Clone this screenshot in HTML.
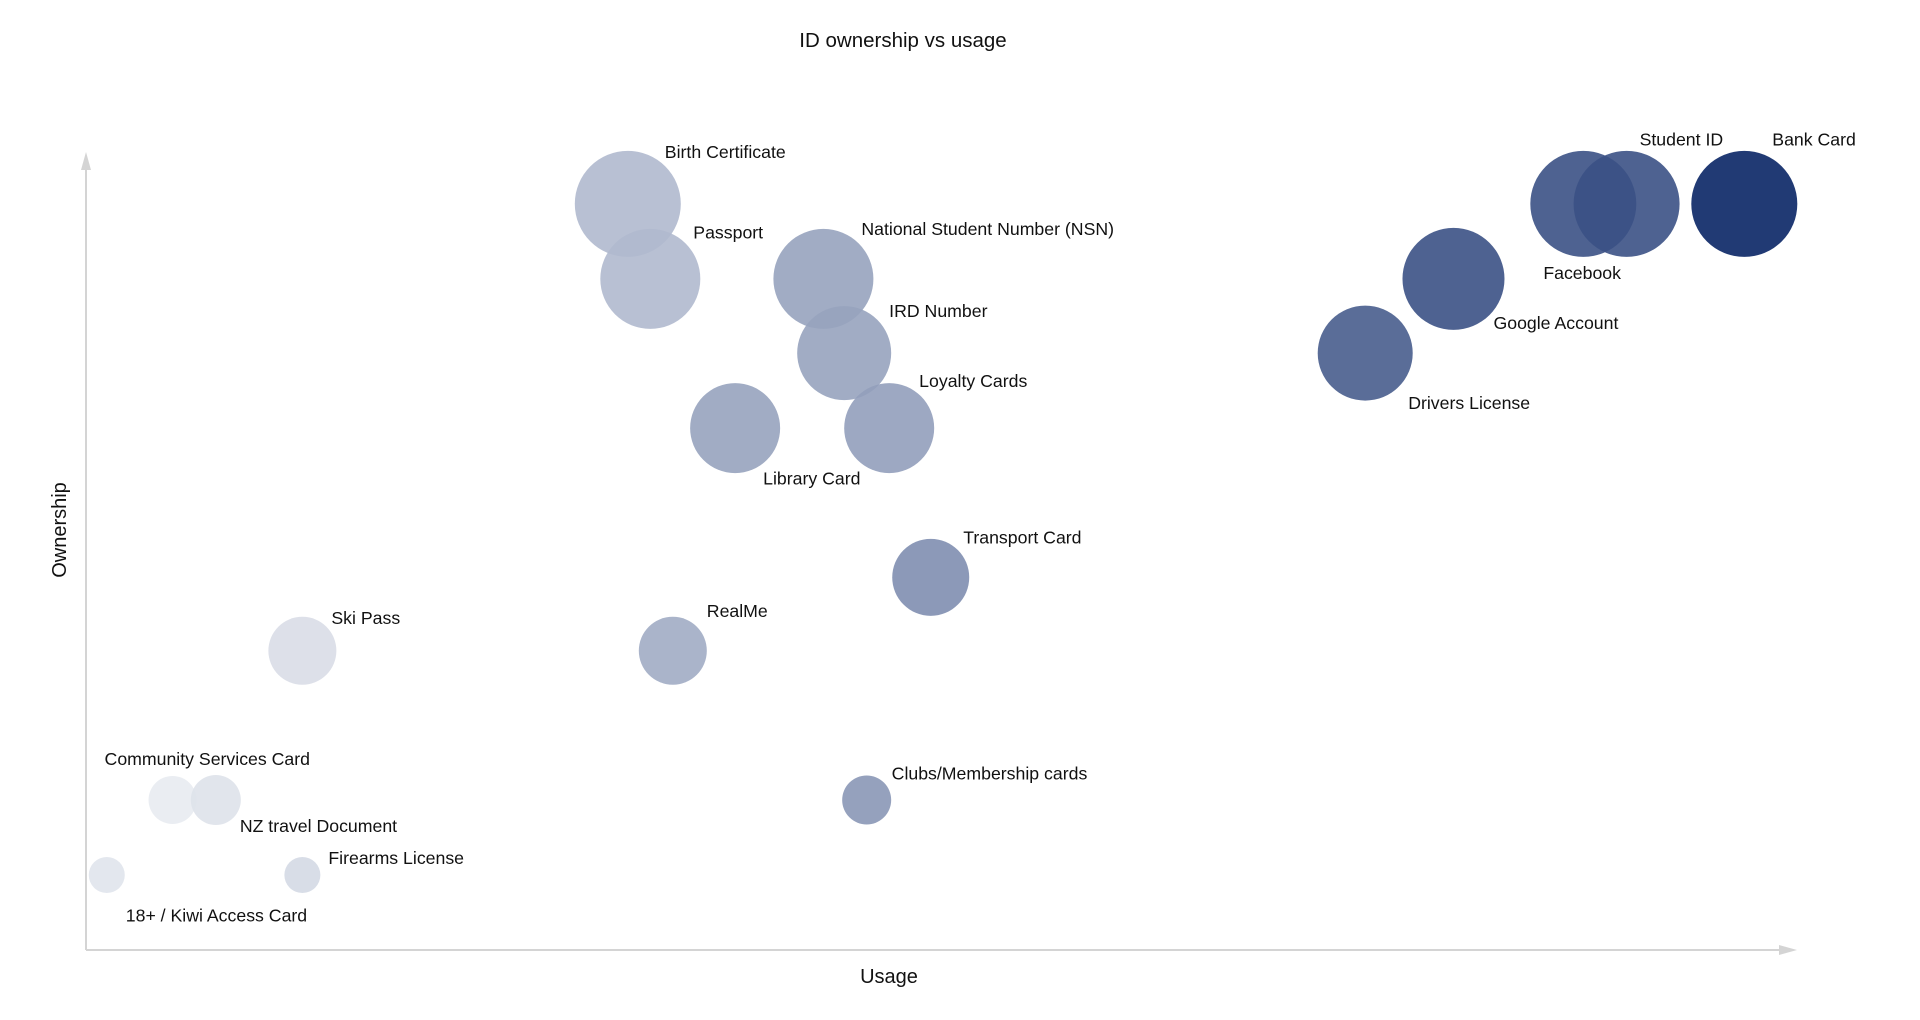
<!DOCTYPE html>
<html><head><meta charset="utf-8"><style>
html,body{margin:0;padding:0;background:#fff;width:1920px;height:1020px;overflow:hidden}
svg{display:block;font-family:"Liberation Sans",Arial,sans-serif}
</style></head><body>
<svg id="chart" width="1920" height="1020" viewBox="0 0 1920 1020">
<text x="903" y="47" text-anchor="middle" font-size="20.5" fill="#111">ID ownership vs usage</text>
<line x1="86" y1="950" x2="86" y2="165" stroke="#d4d4d4" stroke-width="2"/>
<polygon points="86,152 81,170 91,170" fill="#d4d4d4"/>
<line x1="86" y1="950" x2="1782" y2="950" stroke="#d4d4d4" stroke-width="2"/>
<polygon points="1797,950 1779,945 1779,955" fill="#d4d4d4"/>
<text x="889" y="983" text-anchor="middle" font-size="20" fill="#111">Usage</text>
<text transform="translate(66,530) rotate(-90)" text-anchor="middle" font-size="20" fill="#111">Ownership</text>
<g id="marks"></g>
</svg>
<script>
const names = ["Ski Pass","Community Services Card","NZ travel Document","18+ / Kiwi Access Card","Firearms License","Birth Certificate","Passport","RealMe","National Student Number (NSN)","IRD Number","Library Card","Loyalty Cards","Transport Card","Clubs/Membership cards","Drivers License","Google Account","Facebook","Student ID","Bank Card"];
const usage = [12.5,5.0,7.5,1.2,12.5,31.3,32.6,33.9,42.6,43.8,37.5,46.4,48.8,45.1,73.9,79.0,86.5,89.0,95.8];
const ownership = [37.5,18.8,18.8,9.4,9.4,93.5,84.1,37.5,84.1,74.8,65.4,65.4,46.7,18.8,74.8,84.1,93.5,93.5,93.5];
const sizes = [34,24,25,18,18,53,50,34,50,47,45,45,38.5,24.5,47.5,51,53,53,53];
const intensity = [0.15,0.09,0.13,0.12,0.17,0.31,0.31,0.37,0.41,0.41,0.41,0.43,0.5,0.46,0.72,0.77,0.77,0.77,0.97];
const labelDx = [29,-68,24,19,26,37,43,34,38,45,28,30,32.5,25,43,40,-40,13,28];
const labelDy = [-33,-41,26,40.5,-17,-52,-46.5,-40,-50,-42,50.6,-47.3,-40,-26.4,50,44,69,-64.5,-64.5];

const X0=86, X1=1817, Y0=950, Y1=152;
const xScale = v => X0 + (X1-X0)*v/100;
const yScale = v => Y0 - (Y0-Y1)*v/100;
const g = document.getElementById('marks');
const NS = "http://www.w3.org/2000/svg";
const base=[26,52,112], op=0.9;
function colorFor(a){
  const m=Math.min(1,a/op);
  return 'rgb('+base.map(b=>Math.round(255-m*(255-b))).join(',')+')';
}
for (let i=0;i<names.length;i++){
  const cx=xScale(usage[i]), cy=yScale(ownership[i]);
  const c=document.createElementNS(NS,'circle');
  
  
  c.setAttribute('cx',cx); c.setAttribute('cy',cy); c.setAttribute('r',sizes[i]);
  c.setAttribute('fill',colorFor(intensity[i])); c.setAttribute('fill-opacity',intensity[i]>0.9?0.97:op);
  g.appendChild(c);
}
for (let i=0;i<names.length;i++){
  const cx=xScale(usage[i]), cy=yScale(ownership[i]);
  const t=document.createElementNS(NS,'text');
  
  
  t.setAttribute('x',cx+labelDx[i]); t.setAttribute('y',cy+labelDy[i]+6);
  t.setAttribute('font-size','17.7'); t.setAttribute('fill','#111');
  t.textContent=names[i];
  g.appendChild(t);
}
</script>
</body></html>
